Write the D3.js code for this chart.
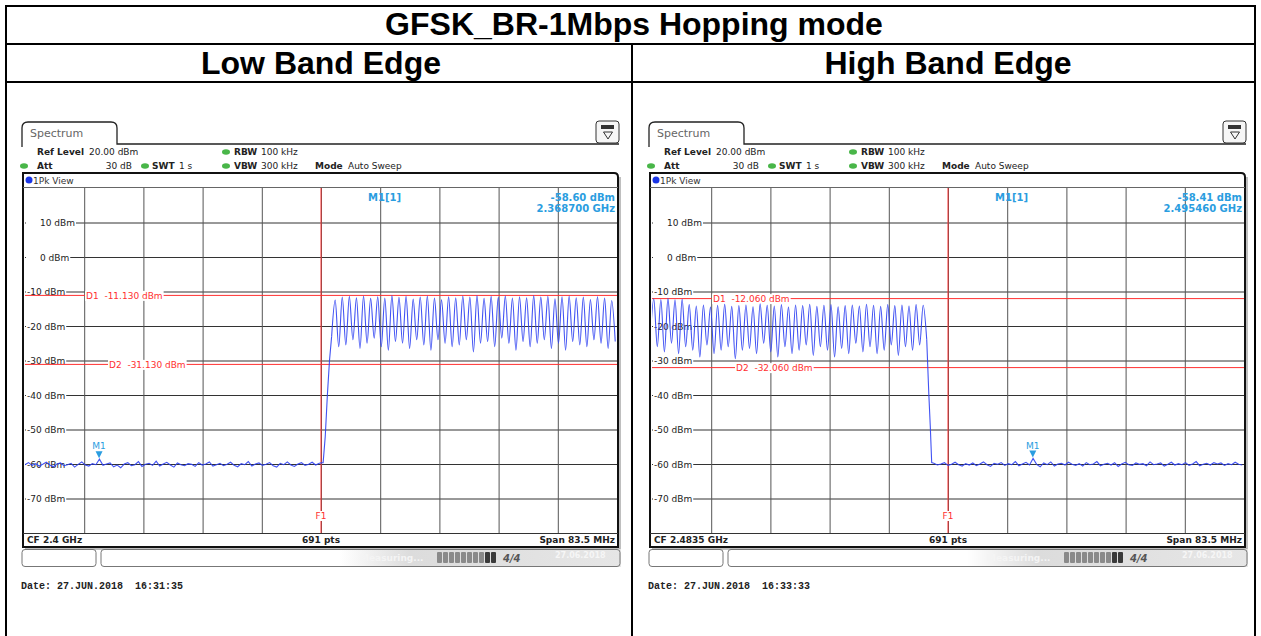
<!DOCTYPE html>
<html>
<head>
<meta charset="utf-8">
<script src="https://cdn.jsdelivr.net/npm/d3@7"></script>
<style>
body { margin: 0; background: #fff; }
svg { display: block; }
</style>
</head>
<body>
<div id="chart"></div>
<script>
// ---- data ----
const title = "GFSK_BR-1Mbps Hopping mode";
const panelTitles = ["Low Band Edge", "High Band Edge"];
const centerFreqs = [2.4, 2.4835];          // GHz
const spanGHz = 0.0835;
const cfLabels = ["CF 2.4 GHz", "CF 2.4835 GHz"];
const d1Levels = [-11.13, -12.06];           // dBm
const d2Levels = [-31.13, -32.06];
const markerFreqs = [2.3687, 2.49546];
const markerLevels = [-58.60, -58.41];
const dates = ["Date: 27.JUN.2018  16:31:35", "Date: 27.JUN.2018  16:33:33"];
const levelTicks = [10, 0, -10, -20, -30, -40, -50, -60, -70];

// noise floor samples, every 0.5 MHz
const noiseStep = 0.0005;
const lowNoiseStart = 2.35825;
const lowNoise = [
  -60.2,-59.6,-60.4,-59.9,-60.6,-60.1,-59.5,-60.3,-60.8,-60.0,
  -59.7,-60.5,-60.2,-59.8,-60.9,-60.1,-59.4,-60.3,-60.6,-59.9,
  -60.2,-58.6,-60.4,-60.0,-59.7,-60.8,-60.3,-61.1,-60.0,-59.6,
  -60.5,-60.2,-59.3,-60.7,-60.1,-59.8,-60.4,-59.2,-60.6,-60.0,
  -59.5,-60.3,-60.9,-59.7,-60.2,-60.5,-59.9,-60.1,-60.7,-59.6,
  -60.3,-60.0,-59.4,-60.6,-60.2,-59.8,-60.5,-60.1,-59.5,-60.4,
  -60.8,-59.9,-60.2,-59.3,-60.6,-60.0,-59.7,-60.4,-60.1,-59.6,
  -60.5,-60.9,-59.8,-60.2,-59.4,-60.3,-60.7,-60.0,-59.6,-60.4,
  -60.1,-59.5,-60.3,-59.8,-59.6];
const highNoiseStart = 2.4815;
const highNoise = [
  -59.8,-60.3,-60.0,-59.6,-60.4,-60.1,-59.5,-60.2,-60.6,-59.9,
  -60.3,-59.7,-60.5,-60.0,-59.4,-60.2,-60.7,-59.8,-60.1,-59.6,
  -60.4,-59.9,-60.2,-59.3,-60.5,-60.0,-59.5,-60.3,-58.4,-60.1,
  -60.8,-59.7,-60.2,-59.4,-60.6,-60.0,-59.8,-60.3,-59.5,-60.1,
  -60.4,-59.9,-60.6,-59.6,-60.2,-60.0,-59.3,-60.5,-60.1,-59.8,
  -60.3,-59.6,-60.7,-60.0,-59.5,-60.2,-60.4,-59.7,-60.1,-59.9,
  -60.5,-59.4,-60.2,-60.0,-59.7,-60.6,-60.1,-59.5,-60.3,-59.9,
  -60.2,-59.6,-60.4,-60.0,-59.3,-60.5,-60.1,-59.8,-60.3,-59.6,
  -60.0,-59.7,-60.4,-59.9,-60.2,-59.5,-60.1,-60.3];

// hopping channels (MHz) with peak level and the dip between channels
const lowChannels = d3.range(2402, 2442);
const lowPeaks = [
  -12.5,-11.6,-11.4,-11.8,-11.3,-12.0,-11.5,-11.9,-11.2,-11.7,
  -11.4,-12.2,-11.6,-11.3,-11.9,-12.4,-11.5,-11.8,-11.3,-11.6,
  -11.2,-12.0,-11.4,-11.7,-11.3,-11.9,-11.5,-11.8,-11.2,-11.6,
  -11.4,-12.1,-11.5,-11.3,-11.8,-11.6,-12.3,-11.5,-11.9,-12.6];
const lowTroughs = [
  -26.0,-25.5,-24.0,-26.5,-25.0,-23.5,-26.0,-27.0,-24.5,-25.0,
  -26.5,-24.0,-25.5,-27.0,-24.0,-25.0,-26.0,-25.5,-24.0,-27.5,
  -25.0,-24.5,-26.0,-23.5,-25.0,-27.0,-24.5,-26.0,-25.0,-24.0,
  -26.5,-25.0,-27.0,-24.5,-25.5,-26.0,-24.0,-25.0,-26.5,-24.5];
const lowRise = [[2.4003, -59.6], [2.4006, -52], [2.4009, -40], [2.4012, -30], [2.4015, -23]];

const highChannels = d3.range(2442, 2481);
const highPeaks = [
  -12.1,-12.3,-12.0,-12.4,-12.2,-13.8,-14.2,-13.9,-14.5,-14.0,
  -13.7,-14.3,-14.1,-13.9,-14.4,-13.6,-14.0,-14.2,-13.8,-14.5,
  -13.9,-14.1,-13.7,-14.3,-14.0,-13.8,-14.4,-14.1,-13.9,-14.2,
  -13.7,-14.0,-14.3,-13.8,-14.1,-13.9,-14.2,-13.8,-14.0];
const highTroughs = [
  -24.0,-26.0,-27.5,-25.0,-28.0,-26.0,-27.0,-29.0,-25.5,-28.0,
  -27.0,-26.0,-29.5,-27.0,-26.5,-28.0,-25.0,-27.5,-29.0,-26.0,
  -28.0,-27.0,-25.5,-28.5,-26.0,-27.0,-29.0,-26.5,-28.0,-25.0,
  -27.5,-26.0,-28.0,-27.0,-25.5,-28.5,-26.0,-27.0,-25.5];
const highFall = [[2.4805, -24], [2.4808, -40], [2.4810, -49], [2.4812, -59.6]];

// ---- drawing ----
const W = 1261, H = 636;
const svg = d3.select("#chart").append("svg")
  .attr("width", W).attr("height", H)
  .style("font-family", "'DejaVu Sans', Verdana, sans-serif");

const defs = svg.append("defs");
const grad = defs.append("linearGradient").attr("id", "statusGrad");
grad.append("stop").attr("offset", "0%").attr("stop-color", "#fff");
grad.append("stop").attr("offset", "25%").attr("stop-color", "#dcdcdc");
grad.append("stop").attr("offset", "100%").attr("stop-color", "#e6e6e6");

// table around the screenshots
const table = svg.append("g").attr("stroke", "#000").attr("stroke-width", 2);
table.append("rect").attr("x", 6).attr("y", 6).attr("width", 1249).attr("height", 640).attr("fill", "none");
table.append("line").attr("x1", 6).attr("x2", 1255).attr("y1", 44).attr("y2", 44);
table.append("line").attr("x1", 6).attr("x2", 1255).attr("y1", 82).attr("y2", 82);
table.append("line").attr("x1", 632).attr("x2", 632).attr("y1", 44).attr("y2", 640);

svg.append("text").attr("x", 634).attr("y", 35).attr("text-anchor", "middle")
  .style("font-family", "'Liberation Sans', Arial, sans-serif")
  .style("font-weight", "bold").style("font-size", "32px").text(title);
svg.selectAll(".ptitle").data(panelTitles).enter().append("text")
  .attr("x", (d, i) => i ? 948 : 321).attr("y", 74).attr("text-anchor", "middle")
  .style("font-family", "'Liberation Sans', Arial, sans-serif")
  .style("font-weight", "bold").style("font-size", "32px").text(d => d);

function bgText(g, x, y, txt, opts) {
  const t = g.append("text").attr("x", x).attr("y", y).text(txt)
    .attr("xml:space", "preserve").style("white-space", "pre")
    .attr("fill", opts.color || "#222")
    .attr("text-anchor", opts.anchor || "start")
    .style("font-size", (opts.size || 9) + "px")
    .style("font-weight", opts.bold ? "bold" : "normal");
  if (opts.bg) {
    const b = t.node().getBBox();
    const left = opts.bgFrom != null ? opts.bgFrom : b.x - 1;
    g.insert("rect", () => t.node())
      .attr("x", left).attr("y", b.y).attr("width", b.x + b.width + 1 - left).attr("height", b.height)
      .attr("fill", "#fff");
  }
  return t;
}

function greenDot(g, cx, cy) {
  g.append("ellipse").attr("cx", cx).attr("cy", cy).attr("rx", 4).attr("ry", 2.8)
    .attr("fill", "#49b649");
}

function drawPanel(i, ox) {
  const g = svg.append("g").attr("transform", `translate(${ox},0)`);
  const gx0 = 25, gx1 = 617, gy0 = 188, gy1 = 533;
  const f0 = centerFreqs[i] - spanGHz / 2;
  const x = d3.scaleLinear().domain([f0, f0 + spanGHz]).range([gx0, gx1]);
  const y = d3.scaleLinear().domain([-80, 20]).range([gy1, gy0]);

  // tab + settings header
  g.append("path")
    .attr("d", "M22,147 V128 Q22,122 28,122 H111 Q117,122 117,128 V144 H619")
    .attr("fill", "none").attr("stroke", "#222").attr("stroke-width", 1.3);
  g.append("text").attr("x", 30).attr("y", 137).text("Spectrum")
    .attr("fill", "#666").style("font-size", "11px");
  g.append("rect").attr("x", 596).attr("y", 121).attr("width", 23).attr("height", 22).attr("rx", 3)
    .attr("fill", "#f6f6f6").attr("stroke", "#333");
  g.append("rect").attr("x", 601).attr("y", 125).attr("width", 13).attr("height", 4).attr("fill", "#333");
  g.append("path").attr("d", "M603.5,132 H612.5 L608,139 Z").attr("fill", "none").attr("stroke", "#333");

  bgText(g, 37, 155, "Ref Level", {bold: true});
  bgText(g, 89, 155, "20.00 dBm", {});
  greenDot(g, 226, 152);
  bgText(g, 234, 155, "RBW", {bold: true});
  bgText(g, 261, 155, "100 kHz", {});
  greenDot(g, 24, 166);
  bgText(g, 37, 169, "Att", {bold: true});
  bgText(g, 132, 169, "30 dB", {anchor: "end"});
  greenDot(g, 145, 166);
  bgText(g, 152, 169, "SWT", {bold: true});
  bgText(g, 179, 169, "1 s", {});
  greenDot(g, 226, 166);
  bgText(g, 234, 169, "VBW", {bold: true});
  bgText(g, 261, 169, "300 kHz", {});
  bgText(g, 315, 169, "Mode", {bold: true});
  bgText(g, 348, 169, "Auto Sweep", {});

  // frame
  g.append("path").attr("d", "M620,177 V549 H25").attr("fill", "none").attr("stroke", "#aaa").attr("stroke-width", 1.5);
  g.append("path").attr("d", "M23,547 V173 H614 Q618,173 618,177 V547 Z")
    .attr("fill", "#fff").attr("stroke", "#111").attr("stroke-width", 2);
  g.append("line").attr("x1", 23).attr("x2", 618).attr("y1", 187.5).attr("y2", 187.5).attr("stroke", "#666");
  g.append("circle").attr("cx", 29).attr("cy", 180).attr("r", 3.5).attr("fill", "#1a35e6");
  bgText(g, 33, 184, "1Pk View", {color: "#333"});

  // grid from the axes
  const gridH = g.append("g").attr("transform", `translate(${gx0},0)`)
    .call(d3.axisRight(y).tickValues(levelTicks).tickSize(gx1 - gx0).tickFormat(""));
  const freqGrid = d3.range(1, 10).map(k => f0 + k * spanGHz / 10);
  const gridV = g.append("g").attr("transform", `translate(0,${gy1})`)
    .call(d3.axisBottom(x).tickValues(freqGrid).tickSize(-(gy1 - gy0)).tickFormat(""));
  [gridH, gridV].forEach(a => {
    a.select(".domain").remove();
    a.selectAll("line").attr("stroke", "#333").attr("stroke-width", 1);
  });
  gridV.selectAll("line").attr("stroke", "#555");
  levelTicks.forEach(v => bgText(g, v > 0 ? 40 : (v === 0 ? 40 : 27), y(v) + 3.5, v + " dBm",
    {bg: true, bgFrom: gx0 + 1}));

  // limit lines
  const red = "#ff3030";
  const cx = x(centerFreqs[i]);
  g.append("line").attr("x1", cx).attr("x2", cx).attr("y1", gy0).attr("y2", gy1).attr("stroke", red);
  [d1Levels[i], d2Levels[i]].forEach(v => {
    g.append("line").attr("x1", gx0).attr("x2", gx1).attr("y1", y(v)).attr("y2", y(v)).attr("stroke", red);
  });
  bgText(g, 86, y(d1Levels[i]) + 3.5, "D1  " + d1Levels[i].toFixed(3) + " dBm", {color: red, bg: true});
  bgText(g, 109, y(d2Levels[i]) + 3.5, "D2  " + d2Levels[i].toFixed(3) + " dBm", {color: red, bg: true});
  bgText(g, cx, 519, "F1", {color: red, anchor: "middle", bg: true});

  // trace, clipped to the grid
  const clipId = "clip" + i;
  defs.append("clipPath").attr("id", clipId).append("rect")
    .attr("x", ox + gx0).attr("y", gy0).attr("width", gx1 - gx0).attr("height", gy1 - gy0);
  const lineLin = d3.line().x(d => x(d[0])).y(d => y(d[1]));
  const lineSmooth = d3.line().x(d => x(d[0])).y(d => y(d[1])).curve(d3.curveMonotoneX);
  let flat, hop;
  if (i === 0) {
    flat = lowNoise.map((v, k) => [lowNoiseStart + k * noiseStep, v]).concat(lowRise);
    hop = [lowRise[lowRise.length - 1]];
    lowChannels.forEach((c, k) => {
      hop.push([c / 1000, lowPeaks[k]]);
      hop.push([c / 1000 + 0.0005, lowTroughs[k]]);
    });
  } else {
    hop = [];
    highChannels.forEach((c, k) => {
      hop.push([c / 1000 - 0.0005, highTroughs[k]]);
      hop.push([c / 1000, highPeaks[k]]);
    });
    hop.push(highFall[0]);
    flat = highFall.concat(highNoise.map((v, k) => [highNoiseStart + k * noiseStep, v]));
  }
  const traceG = svg.append("g").attr("clip-path", `url(#${clipId})`)
    .append("g").attr("transform", `translate(${ox},0)`);
  [[flat, lineLin], [hop, lineSmooth]].forEach(([pts, gen]) => {
    traceG.append("path").attr("d", gen(pts)).attr("fill", "none")
      .attr("stroke", "#2e40f2").attr("stroke-width", 1.1).attr("stroke-opacity", 0.9);
  });

  // marker
  const blue = "#2a9de0";
  const mx = x(markerFreqs[i]), my = y(markerLevels[i]);
  traceG.append("path").attr("d", `M${mx - 3.5},${my - 8} H${mx + 3.5} L${mx},${my - 1} Z`).attr("fill", blue);
  traceG.append("text").attr("x", mx).attr("y", my - 10).attr("text-anchor", "middle")
    .attr("fill", blue).style("font-size", "9px").text("M1");
  bgText(g, 368, 200.5, "M1[1]", {color: blue, bold: true, size: 10});
  bgText(g, 615, 200.5, markerLevels[i].toFixed(2) + " dBm", {color: blue, bold: true, size: 10, anchor: "end"});
  bgText(g, 615, 212, markerFreqs[i].toFixed(6) + " GHz", {color: blue, bold: true, size: 10, anchor: "end"});

  // status line
  g.append("line").attr("x1", 23).attr("x2", 618).attr("y1", gy1 + 0.5).attr("y2", gy1 + 0.5).attr("stroke", "#333");
  bgText(g, 27, 543, cfLabels[i], {bold: true});
  bgText(g, 321, 543, "691 pts", {bold: true, anchor: "middle"});
  bgText(g, 615, 543, "Span 83.5 MHz", {bold: true, anchor: "end"});

  // bottom status boxes
  g.append("rect").attr("x", 340).attr("y", 549).attr("width", 281).attr("height", 18).attr("fill", "url(#statusGrad)");
  g.append("rect").attr("x", 22).attr("y", 549.5).attr("width", 74).attr("height", 17).attr("rx", 3)
    .attr("fill", "none").attr("stroke", "#777");
  g.append("rect").attr("x", 101).attr("y", 549.5).attr("width", 519).attr("height", 17).attr("rx", 3)
    .attr("fill", "none").attr("stroke", "#777");
  g.append("text").attr("x", 360).attr("y", 561).attr("fill", "#f4f4f4").style("font-size", "9px")
    .style("font-weight", "bold").text("Measuring...");
  d3.range(10).forEach(k => {
    g.append("rect").attr("x", 437 + k * 6).attr("y", 552).attr("width", 5).attr("height", 11).attr("rx", 1)
      .attr("fill", k < 8 ? "#8a8a8a" : "#3a3a3a");
  });
  g.append("text").attr("x", 503).attr("y", 562).attr("fill", "#555").style("font-size", "10px")
    .style("font-weight", "bold").style("font-style", "italic").text("4/4");
  g.append("text").attr("x", 555).attr("y", 558).attr("fill", "#f6f6f6").style("font-size", "8px")
    .style("font-weight", "bold").text("27.06.2018");

  g.append("text").attr("x", 21).attr("y", 589).text(dates[i])
    .attr("xml:space", "preserve").style("white-space", "pre")
    .style("font-family", "'Liberation Mono', 'Courier New', monospace")
    .style("font-size", "10px").style("font-weight", "bold").attr("fill", "#222");
}

drawPanel(0, 0);
drawPanel(1, 627);
</script>
</body>
</html>
